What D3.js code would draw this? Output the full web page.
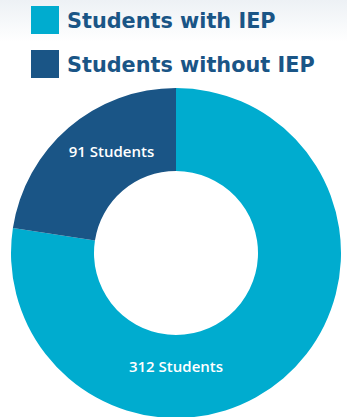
<!DOCTYPE html>
<html>
<head>
<meta charset="utf-8">
<script src="https://cdn.jsdelivr.net/npm/d3@7"></script>
<style>
  html, body { margin: 0; padding: 0; background: #fff; }
  svg { display: block; }
</style>
</head>
<body>
<div id="chart"></div>
<script>
// data
var categories = ["Students with IEP", "Students without IEP"];
var values = [312, 91];
var labels = ["312 Students", "91 Students"];
var colours = ["#00accf", "#1a5586"];

var width = 347, height = 417;
var cx = 176, cy = 253;
var outerR = 165, innerR = 82;

var svg = d3.select("#chart").append("svg")
  .attr("width", width)
  .attr("height", height);

// faint grey wash at the top
var defs = svg.append("defs");
var grad = defs.append("linearGradient")
  .attr("id", "topWash")
  .attr("x1", 0).attr("y1", 0).attr("x2", 0).attr("y2", 1);
grad.append("stop").attr("offset", "0%").attr("stop-color", "#edf1f5");
grad.append("stop").attr("offset", "100%").attr("stop-color", "#ffffff");
svg.append("rect")
  .attr("x", 0).attr("y", 0)
  .attr("width", width).attr("height", 42)
  .attr("fill", "url(#topWash)");

// legend
var legend = svg.append("g").attr("class", "legend");
var legendRows = legend.selectAll("g")
  .data(categories)
  .enter().append("g")
  .attr("transform", function (d, i) { return "translate(31," + (6 + i * 44) + ")"; });

legendRows.append("rect")
  .attr("width", 28).attr("height", 28)
  .attr("fill", function (d, i) { return colours[i]; });

legendRows.append("text")
  .attr("x", 36).attr("y", 22)
  .style("font-family", "'DejaVu Sans', sans-serif")
  .style("font-weight", 700)
  .style("font-size", "20.8px")
  .attr("fill", "#1a5586")
  .text(function (d) { return d; });

// donut
var pie = d3.pie().sort(null).value(function (d) { return d; });
var arc = d3.arc().innerRadius(innerR).outerRadius(outerR);
var arcs = pie(values);

var donut = svg.append("g")
  .attr("transform", "translate(" + cx + "," + cy + ")");

donut.selectAll("path")
  .data(arcs)
  .enter().append("path")
  .attr("d", arc)
  .attr("fill", function (d, i) { return colours[i]; });

// label spots (angle in degrees clockwise from top, radius)
var labelPos = [[180, 114], [327.5, 120]];
donut.selectAll("text")
  .data(arcs)
  .enter().append("text")
  .attr("transform", function (d, i) {
    var a = labelPos[i][0] * Math.PI / 180, r = labelPos[i][1];
    return "translate(" + (r * Math.sin(a)) + "," + (-r * Math.cos(a)) + ")";
  })
  .attr("text-anchor", "middle")
  .attr("dy", "0.35em")
  .style("font-family", "'Open Sans', sans-serif")
  .style("font-weight", 600)
  .style("font-size", "15px")
  .attr("fill", "#ffffff")
  .text(function (d, i) { return labels[i]; });
</script>
</body>
</html>
